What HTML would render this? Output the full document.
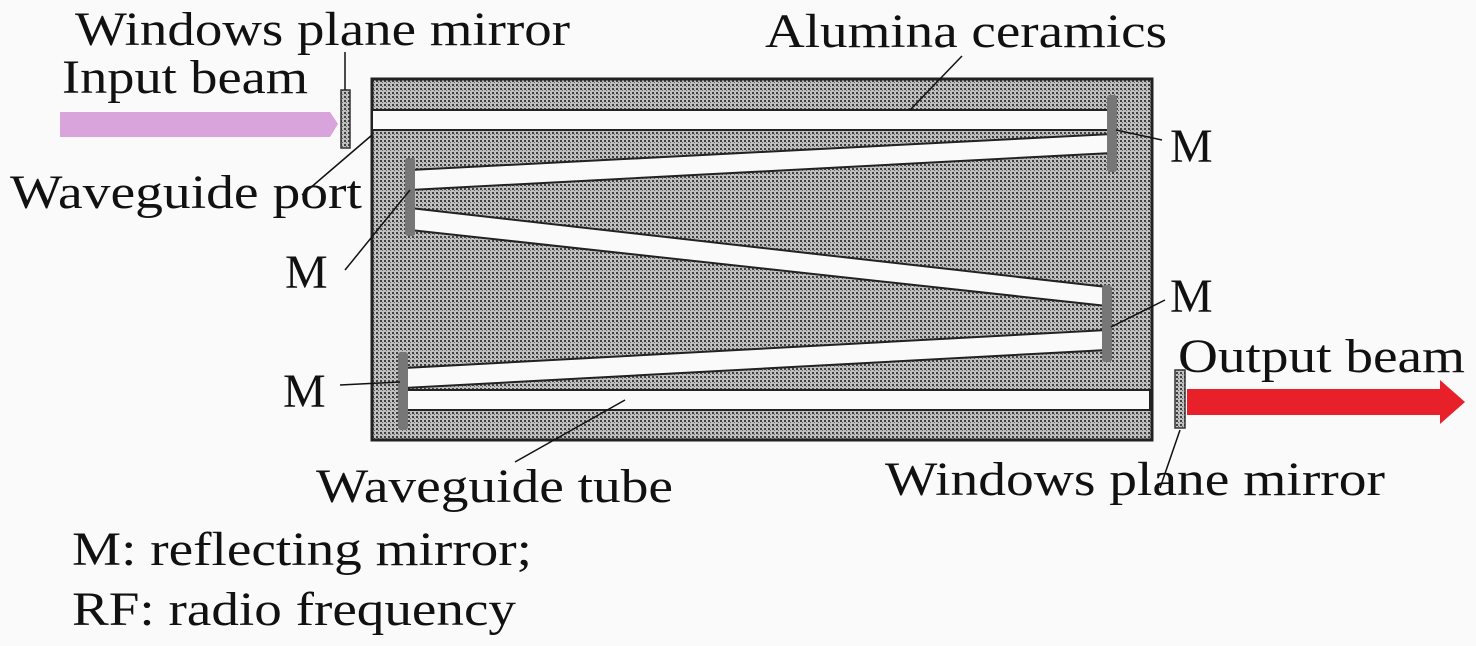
<!DOCTYPE html>
<html><head><meta charset="utf-8"><style>html,body{margin:0;padding:0;background:#fafafa}svg{display:block}
.t{font-family:"Liberation Serif","Times New Roman",serif;font-size:48px;fill:#111}</style></head><body>
<svg width="1476" height="646" viewBox="0 0 1476 646" xmlns="http://www.w3.org/2000/svg">
<defs>
<pattern id="dots" width="4" height="4" patternUnits="userSpaceOnUse">
<rect width="4" height="4" fill="#c0c0c0"/>
<rect x="0" y="0" width="2" height="2" fill="#404040"/>
<rect x="2" y="2" width="1" height="1" fill="#606060"/>
</pattern>
</defs>
<rect x="0" y="0" width="1476" height="646" fill="#fafafa"/>
<rect x="372" y="79" width="780" height="361" fill="url(#dots)" stroke="#222" stroke-width="3"/>
<g fill="#fafafa" stroke="#222" stroke-width="2">
<rect x="372" y="110" width="740" height="20"/>
<polygon points="410,170 1112,134 1112,153 410,190"/>
<polygon points="410,208 1107,287 1107,306 410,230"/>
<polygon points="1107,330 1107,350 404,388 404,368"/>
<rect x="404" y="390" width="746" height="20"/>
</g>
<g fill="#777">
<rect x="405" y="158" width="10" height="78" rx="3"/>
<rect x="1107" y="95" width="10" height="77" rx="3"/>
<rect x="1102" y="285" width="10" height="77" rx="3"/>
<rect x="398" y="352" width="10" height="78" rx="3"/>
</g>
<rect x="341" y="90" width="9" height="58" fill="url(#dots)" stroke="#333" stroke-width="1.5"/>
<rect x="1175" y="370" width="10" height="58" fill="url(#dots)" stroke="#333" stroke-width="1.5"/>
<polygon points="60,112 330,112 338,124 330,137 60,137" fill="#d9a3db"/>
<polygon points="1187,389 1440,389 1440,380 1465,402 1440,424 1440,415 1187,415" fill="#e8202a"/>
<g stroke="#111" stroke-width="1.5" fill="none">
<line x1="345" y1="90" x2="345" y2="52"/>
<line x1="910" y1="110" x2="962" y2="56"/>
<line x1="302" y1="195" x2="372" y2="135"/>
<line x1="345" y1="270" x2="410" y2="190"/>
<line x1="1162" y1="140" x2="1116" y2="130"/>
<line x1="1165" y1="300" x2="1111" y2="327"/>
<line x1="340" y1="385" x2="400" y2="382"/>
<line x1="515" y1="462" x2="625" y2="400"/>
<line x1="1160" y1="488" x2="1180" y2="430"/>
</g>
<text class="t" x="75" y="45" textLength="495" lengthAdjust="spacingAndGlyphs">Windows plane mirror</text>
<text class="t" x="62" y="93" textLength="246" lengthAdjust="spacingAndGlyphs">Input beam</text>
<text class="t" x="765" y="47" textLength="402" lengthAdjust="spacingAndGlyphs">Alumina ceramics</text>
<text class="t" x="10" y="208" textLength="352" lengthAdjust="spacingAndGlyphs">Waveguide port</text>
<text class="t" x="285" y="288">M</text>
<text class="t" x="1170" y="162">M</text>
<text class="t" x="1170" y="312">M</text>
<text class="t" x="283" y="407">M</text>
<text class="t" x="1178" y="372" textLength="287" lengthAdjust="spacingAndGlyphs">Output beam</text>
<text class="t" x="316" y="502" textLength="357" lengthAdjust="spacingAndGlyphs">Waveguide tube</text>
<text class="t" x="885" y="495" textLength="500" lengthAdjust="spacingAndGlyphs">Windows plane mirror</text>
<text class="t" x="72" y="565" textLength="460" lengthAdjust="spacingAndGlyphs">M: reflecting mirror;</text>
<text class="t" x="72" y="625" textLength="444" lengthAdjust="spacingAndGlyphs">RF: radio frequency</text>
</svg>
</body></html>
